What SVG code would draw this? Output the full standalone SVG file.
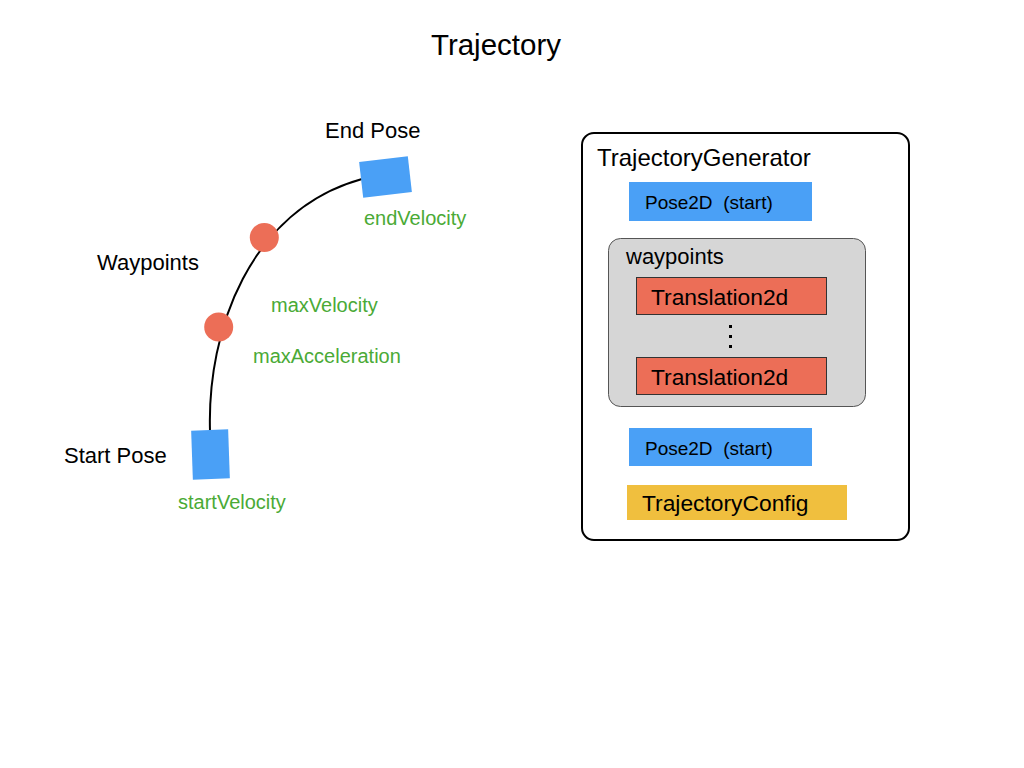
<svg xmlns="http://www.w3.org/2000/svg" width="1024" height="768" viewBox="0 0 1024 768">
<style>
text{font-family:"Liberation Sans",Arial,sans-serif;fill:#000;white-space:pre}
.g{fill:#4aaa36;font-size:20px}
.b{font-size:22px}
.pose{fill:#4aa0f6}
.wp{fill:#ec6e57}
.tr{fill:#ec6e57;stroke:#333;stroke-width:1}
</style>
<rect width="1024" height="768" fill="#fff"/>
<text x="496" y="55" font-size="29.5" text-anchor="middle">Trajectory</text>
<g id="connectors">
<path d="M210,431 C207,330 250,210 362,179" fill="none" stroke="#000" stroke-width="2"/>
</g>
<g id="start-pose">
<rect class="pose" x="192" y="430" width="37" height="49" transform="rotate(-2 210.5 454.5)"/>
<text class="b" x="64" y="463">Start Pose</text>
<text class="g" x="178" y="509">startVelocity</text>
</g>
<g id="end-pose">
<rect class="pose" x="361" y="159" width="49" height="36" transform="rotate(-6.5 385.5 177)"/>
<text class="b" x="325" y="138">End Pose</text>
<text class="g" x="364" y="225">endVelocity</text>
</g>
<g id="waypoints">
<circle class="wp" cx="264.3" cy="237.5" r="14.5"/>
<circle class="wp" cx="218.7" cy="327" r="14.5"/>
<text class="b" x="97" y="270">Waypoints</text>
<text class="g" x="271" y="312">maxVelocity</text>
<text class="g" x="253" y="363">maxAcceleration</text>
</g>
<g id="trajectory-generator">
<rect x="582" y="133" width="327" height="407" rx="12" fill="#fff" stroke="#000" stroke-width="2"/>
<text x="597" y="166" font-size="24">TrajectoryGenerator</text>
</g>
<g id="pose-start-1">
<rect class="pose" x="629" y="182" width="183" height="39"/>
<text x="645" y="209" font-size="19" xml:space="preserve">Pose2D  (start)</text>
</g>
<g id="waypoints-list">
<rect x="608.5" y="238.5" width="257" height="168" rx="12" fill="#d6d6d6" stroke="#555" stroke-width="1"/>
<text x="626" y="264" font-size="22">waypoints</text>
<rect class="tr" x="636.5" y="277.5" width="190" height="37"/>
<text x="651" y="305" font-size="22.8">Translation2d</text>
<rect x="729" y="325" width="3" height="3" fill="#000"/>
<rect x="729" y="335" width="3" height="3" fill="#000"/>
<rect x="729" y="345" width="3" height="3" fill="#000"/>
<rect class="tr" x="636.5" y="357.5" width="190" height="37"/>
<text x="651" y="385" font-size="22.8">Translation2d</text>
</g>
<g id="pose-start-2">
<rect class="pose" x="629" y="428" width="183" height="38"/>
<text x="645" y="455" font-size="19" xml:space="preserve">Pose2D  (start)</text>
</g>
<g id="trajectory-config">
<rect x="627" y="485" width="220" height="35" fill="#f0bf3e"/>
<text x="642" y="511" font-size="22.8">TrajectoryConfig</text>
</g>
</svg>
